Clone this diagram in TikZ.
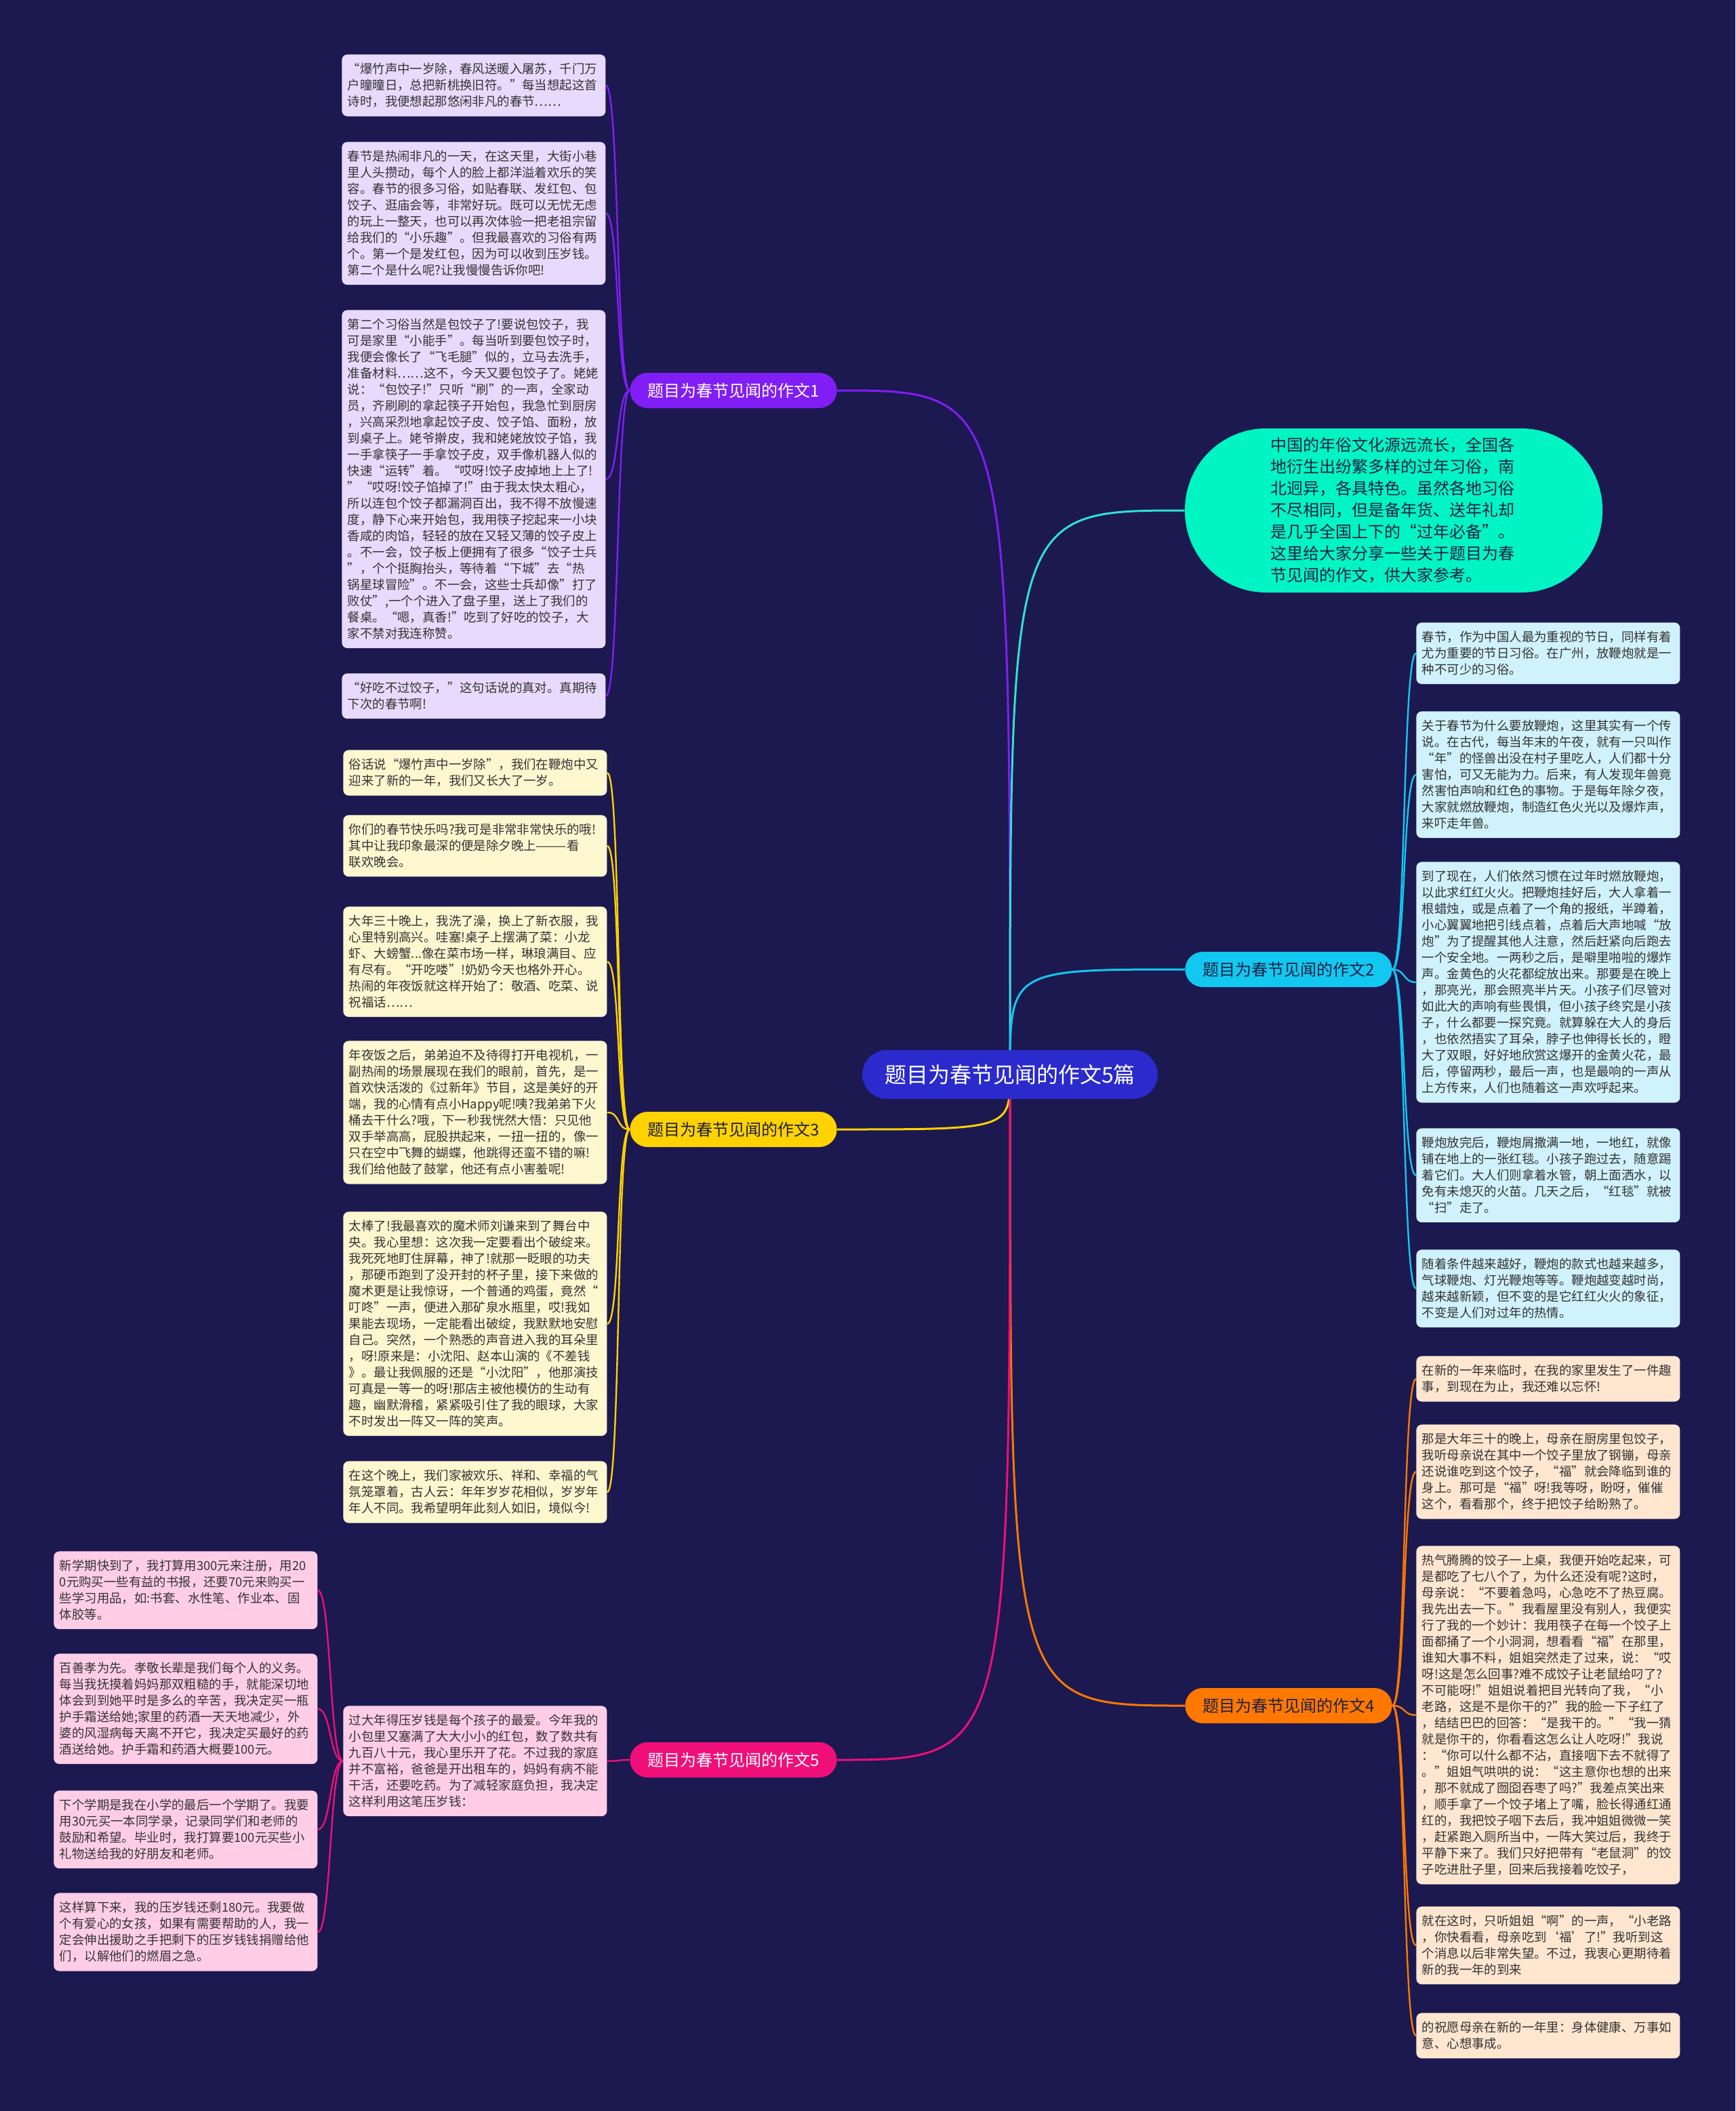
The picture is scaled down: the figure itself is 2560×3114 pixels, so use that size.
\documentclass[tikz,border=0pt]{standalone}
\usepackage{fontspec}
\setmainfont{Noto Sans CJK SC}
\usetikzlibrary{backgrounds}
\definecolor{bgnavy}{RGB}{27,25,80}
\definecolor{rootblue}{RGB}{42,42,205}
\definecolor{purplebr}{RGB}{128,30,245}
\definecolor{purpleleaf}{RGB}{232,218,252}
\definecolor{yellowbr}{RGB}{255,210,0}
\definecolor{yellowleaf}{RGB}{255,247,208}
\definecolor{pinkbr}{RGB}{240,15,120}
\definecolor{pinkleaf}{RGB}{255,206,230}
\definecolor{cyanbr}{RGB}{18,200,240}
\definecolor{cyanleaf}{RGB}{208,242,252}
\definecolor{orangebr}{RGB}{255,120,0}
\definecolor{orangeleaf}{RGB}{255,230,208}
\definecolor{tealintro}{RGB}{0,245,195}
\definecolor{tealline}{RGB}{48,225,210}
\definecolor{leaftext}{RGB}{51,51,51}
\definecolor{darktext}{RGB}{30,32,70}

\begin{document}
\begin{tikzpicture}[x=0.5pt, y=-0.5pt,
    root/.style={rectangle, fill=rootblue, text=white, rounded corners=18pt, minimum height=36pt, inner xsep=16.5pt, font=\fontsize{16}{18}\selectfont},
    branch/.style={rectangle, rounded corners=13pt, minimum height=26pt, inner xsep=13pt, font=\fontsize{12}{14}\selectfont},
    intro/.style={rectangle, fill=tealintro, text=darktext, rounded corners=60pt, minimum width=308pt, minimum height=121pt, text width=182pt, align=left, font=\fontsize{12}{16}\selectfont},
    leaf/.style={rectangle, fill=#1, rounded corners=4pt, anchor=north west, text width=186pt, inner xsep=4.25pt, inner ysep=6.4pt, align=left, text=leaftext, font=\fontsize{9.2}{12}\selectfont},
    link/.style={line width=1.2pt}]
    \node [root] (root) at (1490,1585) {题目为春节见闻的作文5篇};
    \node [branch, fill=purplebr, text=white] (b1) at (1082,576) {题目为春节见闻的作文1};
    \node [branch, fill=cyanbr, text=darktext] (b2) at (1901,1430) {题目为春节见闻的作文2};
    \node [branch, fill=yellowbr, text=darktext] (b3) at (1082,1666) {题目为春节见闻的作文3};
    \node [branch, fill=orangebr, text=darktext] (b4) at (1901,2516) {题目为春节见闻的作文4};
    \node [branch, fill=pinkbr, text=white] (b5) at (1082,2596) {题目为春节见闻的作文5};
    \node [intro] (intro) at (2056,753) {中国的年俗文化源远流长，全国各\\
      地衍生出纷繁多样的过年习俗，南\\
      北迥异，各具特色。虽然各地习俗\\
      不尽相同，但是备年货、送年礼却\\
      是几乎全国上下的“过年必备”。\\
      这里给大家分享一些关于题目为春\\
      节见闻的作文，供大家参考。};

    \node [leaf=purpleleaf] (l1a) at (504,80) {“爆竹声中一岁除，春风送暖入屠苏，千门万\\
      户曈曈日，总把新桃换旧符。”每当想起这首\\
      诗时，我便想起那悠闲非凡的春节……};
    \node [leaf=purpleleaf] (l1b) at (504,209) {春节是热闹非凡的一天，在这天里，大街小巷\\
      里人头攒动，每个人的脸上都洋溢着欢乐的笑\\
      容。春节的很多习俗，如贴春联、发红包、包\\
      饺子、逛庙会等，非常好玩。既可以无忧无虑\\
      的玩上一整天，也可以再次体验一把老祖宗留\\
      给我们的“小乐趣”。但我最喜欢的习俗有两\\
      个。第一个是发红包，因为可以收到压岁钱。\\
      第二个是什么呢?让我慢慢告诉你吧!};
    \node [leaf=purpleleaf] (l1c) at (504,457) {第二个习俗当然是包饺子了!要说包饺子，我\\
      可是家里“小能手”。每当听到要包饺子时，\\
      我便会像长了“飞毛腿”似的，立马去洗手，\\
      准备材料……这不，今天又要包饺子了。姥姥\\
      说：“包饺子!”只听“刷”的一声，全家动\\
      员，齐刷刷的拿起筷子开始包，我急忙到厨房\\
      ，兴高采烈地拿起饺子皮、饺子馅、面粉，放\\
      到桌子上。姥爷擀皮，我和姥姥放饺子馅，我\\
      一手拿筷子一手拿饺子皮，双手像机器人似的\\
      快速“运转”着。“哎呀!饺子皮掉地上上了!\\
      ”“哎呀!饺子馅掉了!”由于我太快太粗心，\\
      所以连包个饺子都漏洞百出，我不得不放慢速\\
      度，静下心来开始包，我用筷子挖起来一小块\\
      香咸的肉馅，轻轻的放在又轻又薄的饺子皮上\\
      。不一会，饺子板上便拥有了很多“饺子士兵\\
      ”，个个挺胸抬头，等待着“下城”去“热\\
      锅星球冒险”。不一会，这些士兵却像”打了\\
      败仗”,一个个进入了盘子里，送上了我们的\\
      餐桌。“嗯，真香!”吃到了好吃的饺子，大\\
      家不禁对我连称赞。};
    \node [leaf=purpleleaf] (l1d) at (504,993) {“好吃不过饺子，”这句话说的真对。真期待\\
      下次的春节啊!};

    \node [leaf=yellowleaf] (l3a) at (506,1106) {俗话说“爆竹声中一岁除”，我们在鞭炮中又\\
      迎来了新的一年，我们又长大了一岁。};
    \node [leaf=yellowleaf] (l3b) at (506,1202) {你们的春节快乐吗?我可是非常非常快乐的哦!\\
      其中让我印象最深的便是除夕晚上———看\\
      联欢晚会。};
    \node [leaf=yellowleaf] (l3c) at (506,1337) {大年三十晚上，我洗了澡，换上了新衣服，我\\
      心里特别高兴。哇塞!桌子上摆满了菜：小龙\\
      虾、大螃蟹...像在菜市场一样，琳琅满目、应\\
      有尽有。“开吃喽”!奶奶今天也格外开心。\\
      热闹的年夜饭就这样开始了：敬酒、吃菜、说\\
      祝福话……};
    \node [leaf=yellowleaf] (l3d) at (506,1535) {年夜饭之后，弟弟迫不及待得打开电视机，一\\
      副热闹的场景展现在我们的眼前，首先，是一\\
      首欢快活泼的《过新年》节目，这是美好的开\\
      端，我的心情有点小Happy呢!咦?我弟弟下火\\
      桶去干什么?哦，下一秒我恍然大悟：只见他\\
      双手举高高，屁股拱起来，一扭一扭的，像一\\
      只在空中飞舞的蝴蝶，他跳得还蛮不错的嘛!\\
      我们给他鼓了鼓掌，他还有点小害羞呢!};
    \node [leaf=yellowleaf] (l3e) at (506,1787) {太棒了!我最喜欢的魔术师刘谦来到了舞台中\\
      央。我心里想：这次我一定要看出个破绽来。\\
      我死死地盯住屏幕，神了!就那一眨眼的功夫\\
      ，那硬币跑到了没开封的杯子里，接下来做的\\
      魔术更是让我惊讶，一个普通的鸡蛋，竟然“\\
      叮咚”一声，便进入那矿泉水瓶里，哎!我如\\
      果能去现场，一定能看出破绽，我默默地安慰\\
      自己。突然，一个熟悉的声音进入我的耳朵里\\
      ，呀!原来是：小沈阳、赵本山演的《不差钱\\
      》。最让我佩服的还是“小沈阳”，他那演技\\
      可真是一等一的呀!那店主被他模仿的生动有\\
      趣，幽默滑稽，紧紧吸引住了我的眼球，大家\\
      不时发出一阵又一阵的笑声。};
    \node [leaf=yellowleaf] (l3f) at (506,2155) {在这个晚上，我们家被欢乐、祥和、幸福的气\\
      氛笼罩着，古人云：年年岁岁花相似，岁岁年\\
      年人不同。我希望明年此刻人如旧，境似今!};

    \node [leaf=pinkleaf] (l5) at (506,2516) {过大年得压岁钱是每个孩子的最爱。今年我的\\
      小包里又塞满了大大小小的红包，数了数共有\\
      九百八十元，我心里乐开了花。不过我的家庭\\
      并不富裕，爸爸是开出租车的，妈妈有病不能\\
      干活，还要吃药。为了减轻家庭负担，我决定\\
      这样利用这笔压岁钱：};
    \node [leaf=pinkleaf] (l5a) at (79,2288) {新学期快到了，我打算用300元来注册，用20\\
      0元购买一些有益的书报，还要70元来购买一\\
      些学习用品，如:书套、水性笔、作业本、固\\
      体胶等。};
    \node [leaf=pinkleaf] (l5b) at (79,2439) {百善孝为先。孝敬长辈是我们每个人的义务。\\
      每当我抚摸着妈妈那双粗糙的手，就能深切地\\
      体会到到她平时是多么的辛苦，我决定买一瓶\\
      护手霜送给她;家里的药酒一天天地减少，外\\
      婆的风湿病每天离不开它，我决定买最好的药\\
      酒送给她。护手霜和药酒大概要100元。};
    \node [leaf=pinkleaf] (l5c) at (79,2641) {下个学期是我在小学的最后一个学期了。我要\\
      用30元买一本同学录，记录同学们和老师的\\
      鼓励和希望。毕业时，我打算要100元买些小\\
      礼物送给我的好朋友和老师。};
    \node [leaf=pinkleaf] (l5d) at (79,2792) {这样算下来，我的压岁钱还剩180元。我要做\\
      个有爱心的女孩，如果有需要帮助的人，我一\\
      定会伸出援助之手把剩下的压岁钱钱捐赠给他\\
      们，以解他们的燃眉之急。};

    \node [leaf=cyanleaf] (l2a) at (2089,918) {春节，作为中国人最为重视的节日，同样有着\\
      尤为重要的节日习俗。在广州，放鞭炮就是一\\
      种不可少的习俗。};
    \node [leaf=cyanleaf] (l2b) at (2089,1049) {关于春节为什么要放鞭炮，这里其实有一个传\\
      说。在古代，每当年末的午夜，就有一只叫作\\
      “年”的怪兽出没在村子里吃人，人们都十分\\
      害怕，可又无能为力。后来，有人发现年兽竟\\
      然害怕声响和红色的事物。于是每年除夕夜，\\
      大家就燃放鞭炮，制造红色火光以及爆炸声，\\
      来吓走年兽。};
    \node [leaf=cyanleaf] (l2c) at (2089,1271) {到了现在，人们依然习惯在过年时燃放鞭炮，\\
      以此求红红火火。把鞭炮挂好后，大人拿着一\\
      根蜡烛，或是点着了一个角的报纸，半蹲着，\\
      小心翼翼地把引线点着，点着后大声地喊“放\\
      炮”为了提醒其他人注意，然后赶紧向后跑去\\
      一个安全地。一两秒之后，是噼里啪啦的爆炸\\
      声。金黄色的火花都绽放出来。那要是在晚上\\
      ，那亮光，那会照亮半片天。小孩子们尽管对\\
      如此大的声响有些畏惧，但小孩子终究是小孩\\
      子，什么都要一探究竟。就算躲在大人的身后\\
      ，也依然捂实了耳朵，脖子也伸得长长的，瞪\\
      大了双眼，好好地欣赏这爆开的金黄火花，最\\
      后，停留两秒，最后一声，也是最响的一声从\\
      上方传来，人们也随着这一声欢呼起来。};
    \node [leaf=cyanleaf] (l2d) at (2089,1664) {鞭炮放完后，鞭炮屑撒满一地，一地红，就像\\
      铺在地上的一张红毯。小孩子跑过去，随意踢\\
      着它们。大人们则拿着水管，朝上面洒水，以\\
      免有未熄灭的火苗。几天之后，“红毯”就被\\
      “扫”走了。};
    \node [leaf=cyanleaf] (l2e) at (2089,1843) {随着条件越来越好，鞭炮的款式也越来越多，\\
      气球鞭炮、灯光鞭炮等等。鞭炮越变越时尚，\\
      越来越新颖，但不变的是它红红火火的象征，\\
      不变是人们对过年的热情。};

    \node [leaf=orangeleaf] (l4a) at (2089,2000) {在新的一年来临时，在我的家里发生了一件趣\\
      事，到现在为止，我还难以忘怀!};
    \node [leaf=orangeleaf] (l4b) at (2089,2101) {那是大年三十的晚上，母亲在厨房里包饺子，\\
      我听母亲说在其中一个饺子里放了钢镚，母亲\\
      还说谁吃到这个饺子，“福”就会降临到谁的\\
      身上。那可是“福”呀!我等呀，盼呀，催催\\
      这个，看看那个，终于把饺子给盼熟了。};
    \node [leaf=orangeleaf] (l4c) at (2089,2280) {热气腾腾的饺子一上桌，我便开始吃起来，可\\
      是都吃了七八个了，为什么还没有呢?这时，\\
      母亲说：“不要着急吗，心急吃不了热豆腐。\\
      我先出去一下。”我看屋里没有别人，我便实\\
      行了我的一个妙计：我用筷子在每一个饺子上\\
      面都捅了一个小洞洞，想看看“福”在那里，\\
      谁知大事不料，姐姐突然走了过来，说：“哎\\
      呀!这是怎么回事?难不成饺子让老鼠给叼了?\\
      不可能呀!”姐姐说着把目光转向了我，“小\\
      老路，这是不是你干的?”我的脸一下子红了\\
      ，结结巴巴的回答：“是我干的。”“我一猜\\
      就是你干的，你看看这怎么让人吃呀!”我说\\
      ：“你可以什么都不沾，直接咽下去不就得了\\
      。”姐姐气哄哄的说：“这主意你也想的出来\\
      ，那不就成了囫囵吞枣了吗?”我差点笑出来\\
      ，顺手拿了一个饺子堵上了嘴，脸长得通红通\\
      红的，我把饺子咽下去后，我冲姐姐微微一笑\\
      ，赶紧跑入厕所当中，一阵大笑过后，我终于\\
      平静下来了。我们只好把带有“老鼠洞”的饺\\
      子吃进肚子里，回来后我接着吃饺子，};
    \node [leaf=orangeleaf] (l4d) at (2089,2812) {就在这时，只听姐姐“啊”的一声，“小老路\\
      ，你快看看，母亲吃到‘福’了!”我听到这\\
      个消息以后非常失望。不过，我衷心更期待着\\
      新的我一年的到来};
    \node [leaf=orangeleaf] (l4e) at (2089,2969) {的祝愿母亲在新的一年里：身体健康、万事如\\
      意、心想事成。};

    \begin{scope}[on background layer]
    \fill [bgnavy] (0,0) rectangle (2560,3114);
    \draw [link, line width=1.5pt, purplebr] (root.center) .. controls (root.center |- b1.east) .. (b1.east);
    \draw [link, line width=1.5pt, tealline] (root.center) .. controls (root.center |- intro.west) .. (intro.west);
    \draw [link, line width=1.5pt, cyanbr] (root.center) .. controls (root.center |- b2.west) .. (b2.west);
    \draw [link, line width=1.5pt, yellowbr] (root.center) .. controls (root.center |- b3.east) .. (b3.east);
    \draw [link, line width=1.5pt, orangebr] (root.center) .. controls (root.center |- b4.west) .. (b4.west);
    \draw [link, line width=1.5pt, pinkbr] (root.center) .. controls (root.center |- b5.east) .. (b5.east);
    \foreach \n in {l1a,l1b,l1c,l1d}
        \draw [link, purplebr] (b1.west) .. controls +(-20,0) and +(20,0) .. (\n.east);
    \foreach \n in {l3a,l3b,l3c,l3d,l3e,l3f}
        \draw [link, yellowbr] (b3.west) .. controls +(-20,0) and +(20,0) .. (\n.east);
    \draw [link, pinkbr] (b5.west) .. controls +(-20,0) and +(20,0) .. (l5.east);
    \foreach \n in {l5a,l5b,l5c,l5d}
        \draw [link, pinkbr] (l5.west) .. controls +(-20,0) and +(20,0) .. (\n.east);
    \foreach \n in {l2a,l2b,l2c,l2d,l2e}
        \draw [link, cyanbr] (b2.east) .. controls +(20,0) and +(-20,0) .. (\n.west);
    \foreach \n in {l4a,l4b,l4c,l4d,l4e}
        \draw [link, orangebr] (b4.east) .. controls +(20,0) and +(-20,0) .. (\n.west);
    \end{scope}
\end{tikzpicture}
\end{document}
